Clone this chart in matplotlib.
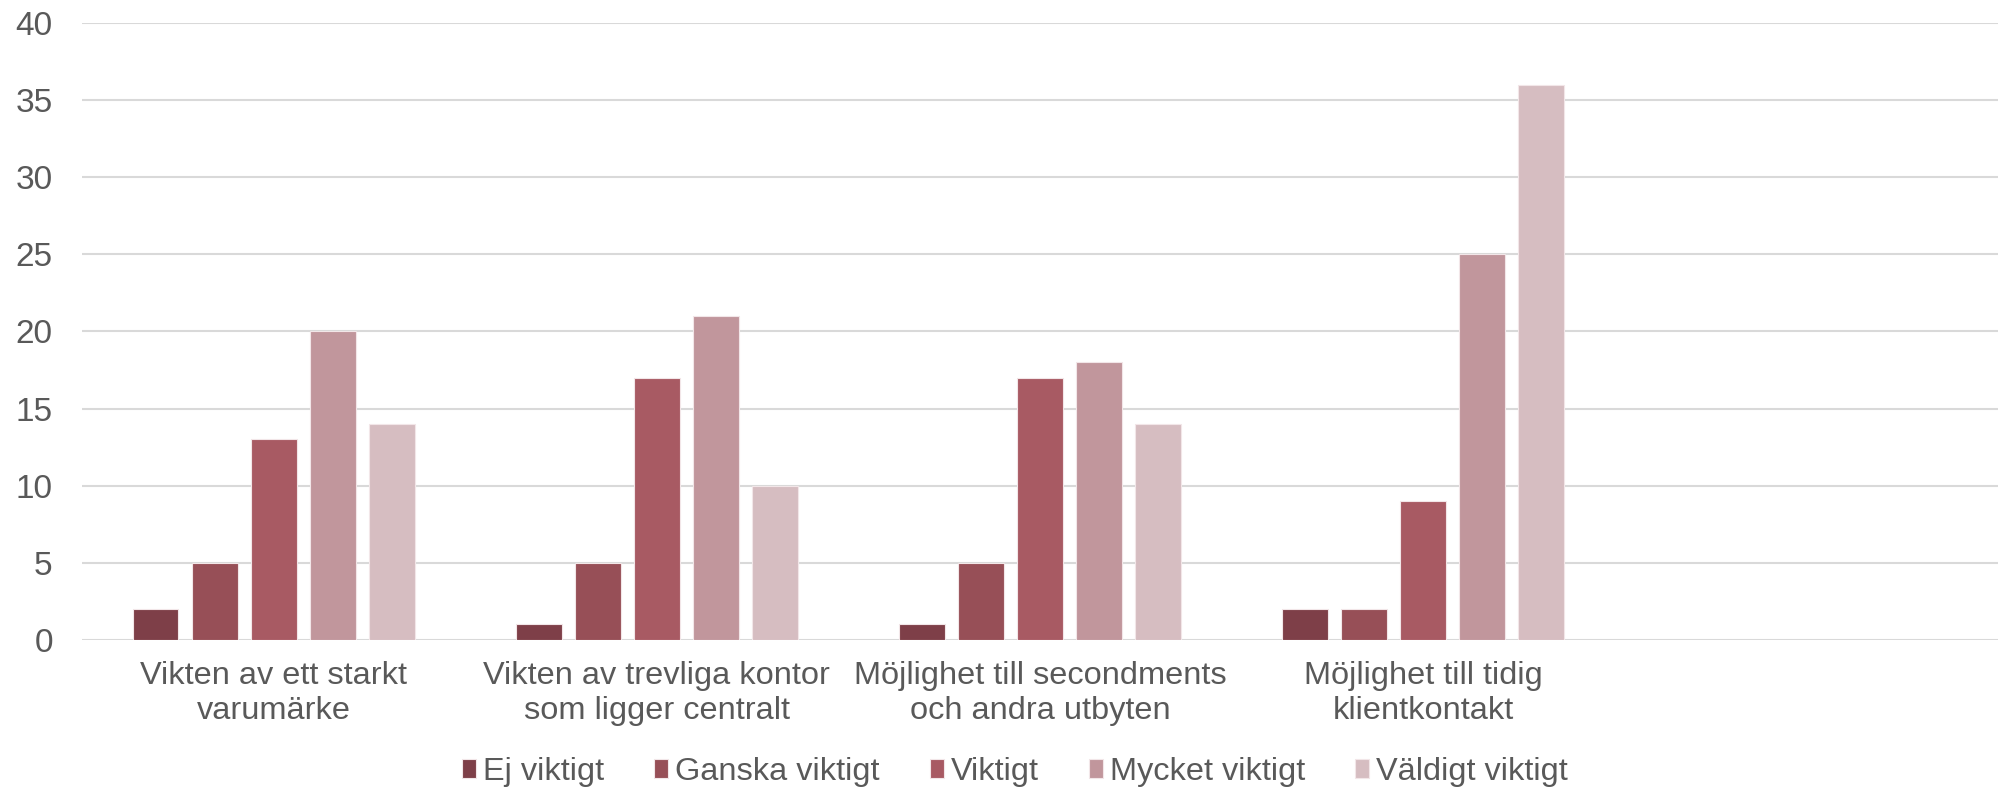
import matplotlib
matplotlib.use("Agg")
import matplotlib.pyplot as plt
import numpy as np

plt.rcParams['font.family'] = ['Liberation Sans', 'DejaVu Sans']

categories = ["Vikten av ett starkt\nvarumärke",
              "Vikten av trevliga kontor\nsom ligger centralt",
              "Möjlighet till secondments\noch andra utbyten",
              "Möjlighet till tidig\nklientkontakt",
              ""]
series_names = ["Ej viktigt", "Ganska viktigt", "Viktigt", "Mycket viktigt", "Väldigt viktigt"]
ej_viktigt = [2, 1, 1, 2]
ganska_viktigt = [5, 5, 5, 2]
viktigt = [13, 17, 17, 9]
mycket_viktigt = [20, 21, 18, 25]
valdigt_viktigt = [14, 10, 14, 36]
series_values = [ej_viktigt, ganska_viktigt, viktigt, mycket_viktigt, valdigt_viktigt]
colors = ["#7E3F48", "#974F57", "#A85A63", "#C1969C", "#D6BDC1"]

text_color = "#595959"
fs = 23.4
fig = plt.figure(figsize=(19.98, 7.9), dpi=100)
ax = fig.add_axes([0.041, 0.19, 0.959, 0.781])

x = np.arange(len(ej_viktigt))
pitch = 0.154
width = 0.12
handles = []
for i, (name, vals, c) in enumerate(zip(series_names, series_values, colors)):
    h = ax.bar(x + (i - 2) * pitch, vals, width=width, color=c, edgecolor="#F2E6E8",
               linewidth=0.8, label=name, zorder=3)
    handles.append(h)

ax.set_xlim(-0.5, len(categories) - 0.5)
ax.set_ylim(0, 40)
ax.set_yticks(np.arange(0, 41, 5))
ax.set_xticks(np.arange(len(categories)))
ax.set_xticklabels(categories, fontsize=fs, color=text_color, linespacing=1.25)
ax.tick_params(axis='x', length=0, pad=15)
ax.tick_params(axis='y', length=0, pad=21, labelsize=fs + 0.6, labelcolor=text_color)
ax.grid(axis='y', color="#D9D9D9", linewidth=1.5, zorder=0)
for s in ax.spines.values():
    s.set_visible(False)

leg = fig.legend(handles=handles, labels=series_names, loc='center', bbox_to_anchor=(0.508, 0.023),
                 ncol=5, frameon=False, fontsize=fs, handlelength=0.42, handleheight=0.5,
                 handletextpad=0.22, columnspacing=1.55, labelcolor=text_color)

fig.savefig("out.png", dpi=100, facecolor="white")
